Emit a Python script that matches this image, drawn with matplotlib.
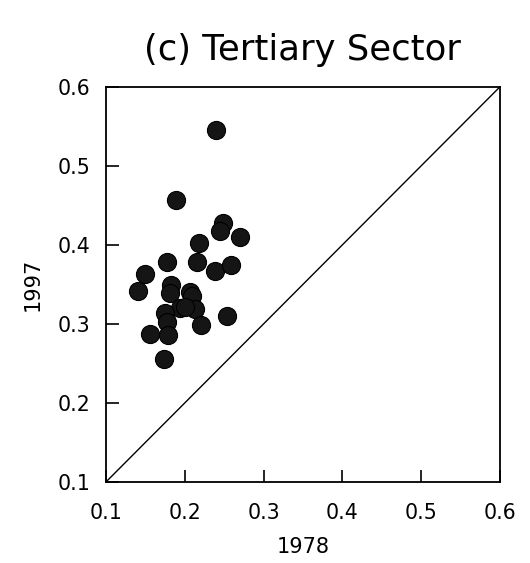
import matplotlib
matplotlib.use("Agg")
import matplotlib.pyplot as plt

plt.rcParams['font.family'] = ['DejaVu Sans']

# share in 1978 vs 1997, tertiary sector
x1978 = [0.240, 0.189, 0.248, 0.245, 0.270, 0.218, 0.177, 0.216, 0.238, 0.259,
         0.149, 0.140, 0.183, 0.181, 0.207, 0.209, 0.194, 0.213, 0.175, 0.178,
         0.221, 0.254, 0.156, 0.179, 0.174, 0.200]
y1997 = [0.545, 0.457, 0.428, 0.418, 0.410, 0.402, 0.378, 0.378, 0.367, 0.374,
         0.363, 0.342, 0.349, 0.339, 0.341, 0.335, 0.320, 0.319, 0.314, 0.303,
         0.299, 0.310, 0.287, 0.286, 0.255, 0.322]
ticks = [0.1, 0.2, 0.3, 0.4, 0.5, 0.6]

fig = plt.figure(figsize=(5.3, 5.63), dpi=100)
ax = fig.add_axes([0.2, 0.144, 0.743, 0.7015])

ax.plot([0.1, 0.6], [0.1, 0.6], color='black', lw=1)
ax.scatter(x1978, y1997, s=170, c='#151515', edgecolors='black', linewidths=0.8, zorder=3)

ax.set_xlim(0.1, 0.6)
ax.set_ylim(0.1, 0.6)
ax.set_xticks(ticks)
ax.set_yticks(ticks)
ax.set_xticklabels([str(t) for t in ticks])
ax.set_yticklabels([str(t) for t in ticks])
ax.tick_params(direction='in', length=9, width=1.2, labelsize=14.8)
ax.tick_params(axis='x', pad=15)
ax.tick_params(axis='y', pad=11)
for s in ax.spines.values():
    s.set_linewidth(1.3)

ax.set_xlabel('1978', fontsize=15, labelpad=10)
ax.set_ylabel('1997', fontsize=15, labelpad=11)
ax.set_title('(c) Tertiary Sector', fontsize=25.5, pad=19.5)

fig.savefig('out.png', dpi=100)
